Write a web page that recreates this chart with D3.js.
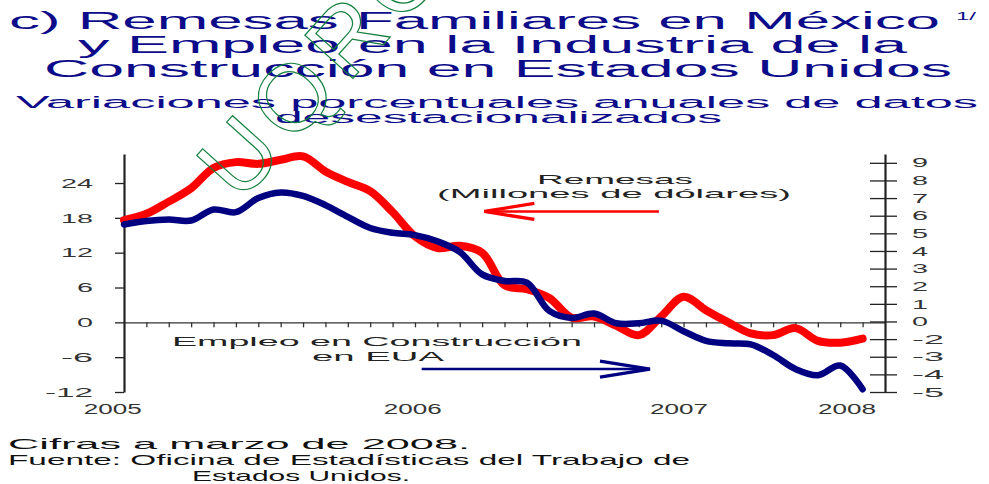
<!DOCTYPE html>
<html>
<head>
<meta charset="utf-8">
<script src="https://cdn.jsdelivr.net/npm/d3@7"></script>
<style>
  body { margin: 0; background: #fff; }
  svg text { font-family: "Liberation Sans", Arial, sans-serif; }
</style>
</head>
<body>
<div id="chart"></div>
<script>
// monthly readings, left axis (remesas) and right axis (empleo)
const remesas = [17.6, 18.7, 20.8, 23.1, 26.6, 27.6, 27.3, 28.0, 28.6, 26.0, 24.2, 22.6,
                 19.0, 14.8, 12.8, 13.2, 12.0, 6.4, 5.7, 4.2, 0.8, 1.0, -0.6, -2.2,
                 1.0, 4.4, 2.1, 0.0, -1.9, -2.2, -1.0, -3.2, -3.5, -2.8];
const empleo = [5.5, 5.7, 5.78, 5.73, 6.35, 6.2, 7.0, 7.32, 7.12, 6.6, 5.93, 5.3,
                5.03, 4.9, 4.55, 3.95, 2.67, 2.3, 2.2, 0.6, 0.2, 0.45, -0.1, -0.1,
                0.05, -0.55, -1.1, -1.24, -1.3, -1.9, -2.7, -3.05, -2.5, -3.85];
const leftTicks = [-12, -6, 0, 6, 12, 18, 24];
const rightTicks = [9, 8, 7, 6, 5, 4, 3, 2, 1, 0, -1, -2, -3, -4];
const rightTickLabels = ["9", "8", "7", "6", "5", "4", "3", "2", "1", "0", "-2", "-3", "-4", "-5"];
const years = ["2005", "2006", "2007", "2008"];
const yearAt = [-0.5, 12.9, 24.8, 32.3];

const width = 989, height = 484;
const svg = d3.select('#chart').append('svg')
  .attr('width', width).attr('height', height);

const x = d3.scaleLinear().domain([0, 34]).range([124, 885]);
const yL = d3.scaleLinear().domain([-12, 29]).range([392, 154]);
const yR = d3.scaleLinear().domain([-4, 9.5]).range([392, 154]);

// stretched text, like the scanned original
const put = (str, x0, y0, size, w, color) => svg.append('text')
  .attr('x', x0).attr('y', y0)
  .attr('font-size', size)
  .attr('fill', color)
  .attr('textLength', w)
  .attr('lengthAdjust', 'spacingAndGlyphs')
  .text(str);

const navy = '#0c0c8a';
put('c) Remesas Familiares en México', 9, 29, 23, 931, navy);
put('1/', 956, 20, 11, 20, navy);
put('y Empleo en la Industria de la', 78, 53, 23, 829, navy);
put('Construcción en Estados Unidos', 44, 77, 23, 908, navy);
put('Variaciones porcentuales anuales de datos', 16, 108, 16, 962, navy);
put('desestacionalizados', 275, 123, 16, 447, navy);

// zero line with month ticks
svg.append('g')
  .attr('transform', `translate(0, ${yL(0)})`)
  .call(d3.axisBottom(x).tickValues(d3.range(1, 34)).tickSize(5).tickSizeOuter(0).tickFormat(''))
  .call(g => g.selectAll('path, line').attr('stroke', '#333').attr('stroke-width', 1.3));

// left axis
svg.append('g')
  .attr('transform', `translate(${x(0)}, 0)`)
  .call(d3.axisLeft(yL).tickValues(leftTicks).tickSize(9).tickSizeOuter(0)
    .tickPadding(22).tickFormat(d => String(d)))
  .call(g => g.select('.domain').attr('stroke', '#222').attr('stroke-width', 2.2))
  .call(g => g.selectAll('.tick line').attr('stroke', '#222').attr('stroke-width', 1.3))
  .call(g => g.selectAll('.tick text')
    .attr('font-size', 13).attr('fill', '#333')
    .attr('textLength', d => String(d).length * 16)
    .attr('lengthAdjust', 'spacingAndGlyphs'));

// right axis
svg.append('g')
  .attr('transform', `translate(${x(34)}, 0)`)
  .call(d3.axisRight(yR).tickValues(rightTicks).tickSize(12).tickSizeOuter(0)
    .tickPadding(15).tickFormat((d, i) => rightTickLabels[i]))
  .call(g => g.select('.domain').attr('stroke', '#222').attr('stroke-width', 2.2))
  .call(g => g.selectAll('.tick line').attr('x1', -15).attr('stroke', '#222').attr('stroke-width', 1.3))
  .call(g => g.selectAll('.tick text')
    .attr('font-size', 13).attr('fill', '#333')
    .attr('textLength', (d, i) => rightTickLabels[i].length * 16)
    .attr('lengthAdjust', 'spacingAndGlyphs'));

// year labels
svg.append('g').selectAll('text')
  .data(years)
  .enter()
  .append('text')
  .attr('x', (d, i) => x(yearAt[i]) - 29)
  .attr('y', 414)
  .attr('font-size', 14)
  .attr('fill', '#333')
  .attr('textLength', 58)
  .attr('lengthAdjust', 'spacingAndGlyphs')
  .text(d => d);

// series
const lineL = d3.line().x((d, i) => x(i)).y(d => yL(d)).curve(d3.curveCatmullRom);
const lineR = d3.line().x((d, i) => x(i)).y(d => yR(d)).curve(d3.curveCatmullRom);

svg.append('path')
  .datum(remesas)
  .attr('d', lineL)
  .attr('fill', 'none')
  .attr('stroke', '#ff0000')
  .attr('stroke-width', 8)
  .attr('stroke-linecap', 'round');

svg.append('path')
  .datum(empleo)
  .attr('d', lineR)
  .attr('fill', 'none')
  .attr('stroke', '#000080')
  .attr('stroke-width', 6.5)
  .attr('stroke-linecap', 'round');

// annotations
put('Remesas', 537, 184, 13, 156, '#222');
put('(Millones de dólares)', 437, 198, 13, 354, '#222');
put('Empleo en Construcción', 172, 346, 13, 410, '#222');
put('en EUA', 312, 361, 13, 132, '#222');

const arrow = (x1, x2, y, color, w) => {
  const dir = x2 > x1 ? -1 : 1;
  svg.append('line')
    .attr('x1', x1).attr('x2', x2).attr('y1', y).attr('y2', y)
    .attr('stroke', color).attr('stroke-width', w);
  svg.append('path')
    .attr('d', `M${x2 + dir * 50},${y - 8}L${x2},${y}L${x2 + dir * 50},${y + 8}`)
    .attr('fill', 'none').attr('stroke', color).attr('stroke-width', w + 0.8);
};
arrow(x(23.9), x(16.1), yL(19.1), '#ff0000', 2.5);
arrow(x(13.3), x(23.5), yR(-2.7), '#000080', 2.5);

// footer
put('Cifras a marzo de 2008.', 8, 449, 15, 462, '#111');
put('Fuente: Oficina de Estadísticas del Trabajo de', 8, 465, 15, 682, '#111');
put('Estados Unidos.', 192, 481, 15, 218, '#111');

// scanned watermark, outline letters
svg.append('text')
  .attr('transform', 'translate(240, 204) rotate(-48)')
  .attr('font-size', 94)
  .attr('letter-spacing', 10)
  .attr('fill', 'none')
  .attr('stroke', '#15803f')
  .attr('stroke-width', 1.2)
  .text('UQROO');
</script>
</body>
</html>
